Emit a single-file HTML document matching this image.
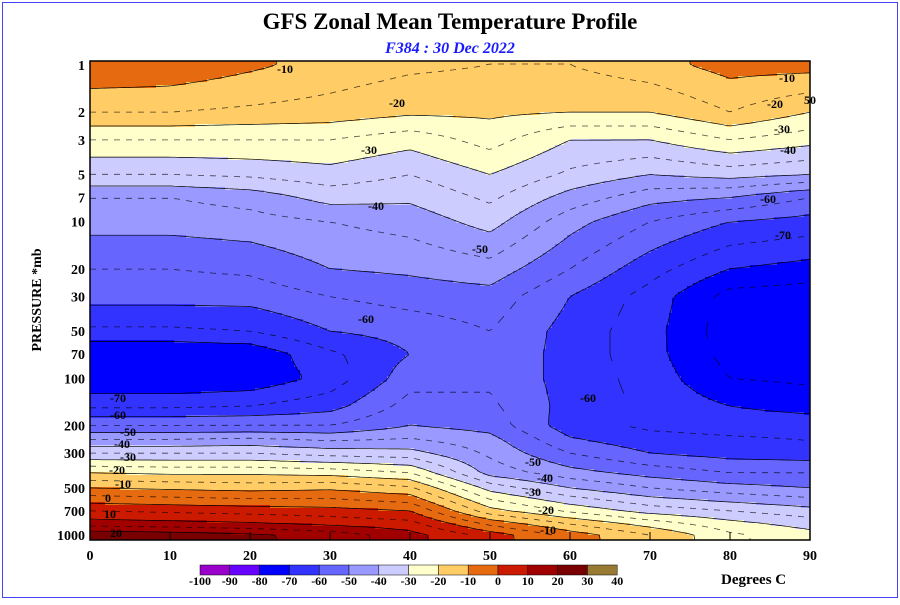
<!DOCTYPE html>
<html><head><meta charset="utf-8"><style>
body{margin:0;background:#fff;}
svg text{font-family:"Liberation Serif",serif;font-weight:bold;}
</style></head><body>
<svg id="chart" width="900" height="600" xmlns="http://www.w3.org/2000/svg">
<rect x="2.5" y="2.5" width="895" height="595" fill="#fff" stroke="#4444ff" stroke-width="1"/>
<text x="450" y="29" text-anchor="middle" font-size="23">GFS Zonal Mean Temperature Profile</text>
<text x="450" y="53" text-anchor="middle" font-size="16" font-style="italic" fill="#1a1aff">F384 : 30 Dec 2022</text>
<g id="field"></g>
<g id="contours"></g>
<g id="clabels"></g>
<rect x="90" y="61" width="720" height="479" fill="none" stroke="#000" stroke-width="1.5"/>
<g id="axes"></g>
<text transform="translate(41,300) rotate(-90)" text-anchor="middle" font-size="14">PRESSURE *mb</text>
<g id="cbar"></g>
<text x="721" y="584" font-size="15">Degrees C</text>
</svg>
<script>
const lats=[0,10,20,30,40,50,60,70,80,90];
const levels=[1,2,3,5,7,10,20,30,50,70,100,150,200,250,300,400,500,700,850,1000];
// temperature rows per latitude (values at each pressure level)
const t0 =[-5,-15,-25,-35,-45,-48,-55,-58,-66,-75,-75,-66,-55,-44,-35,-20,-10,5,13,24];
const t10=[-6,-15,-25,-35,-45,-48,-55,-58,-66,-75,-75,-66,-55,-44,-35,-21,-11,4,12,23];
const t20=[-9,-16,-25,-34,-43,-47,-54,-58,-65,-74,-74,-65,-55,-43,-35,-21,-12,3,11,21];
const t30=[-12,-17,-25,-32,-38,-45,-50,-55,-60,-66,-68,-62,-55,-45,-37,-22,-11,2,9,18];
const t40=[-14,-19,-28,-35,-39,-43,-49,-53,-58,-60,-57,-53,-50,-44,-38,-25,-14,0,7,12];
const t50=[-15,-19,-23,-30,-34,-38,-47,-52,-55,-56,-56,-54,-52,-48,-46,-42,-32,-18,-6,3];
const t60=[-15,-20,-30,-36,-42,-48,-55,-60,-62,-62,-62,-62,-63,-59,-55,-48,-40,-26,-15,-7];
const t70=[-12,-20,-30,-40,-48,-55,-63,-67,-68,-68,-67,-66,-66,-63,-60,-52,-45,-32,-22,-15];
const t80=[-8,-15,-25,-38,-50,-60,-70,-77,-78,-77,-75,-70,-67,-64,-62,-55,-48,-35,-28,-24];
const t90=[-8,-20,-28,-40,-55,-62,-72,-78,-78,-77,-76,-72,-67,-65,-63,-55,-50,-38,-32,-28];
const temps=[t0,t10,t20,t30,t40,t50,t60,t70,t80,t90];
const bandEdges=[-100,-90,-80,-70,-60,-50,-40,-30,-20,-10,0,10,20,30,40];
const bandColors=["#9900cc","#6600ff","#0000ff","#3333ff","#6666ff","#9999ff","#ccccff","#ffffcc","#ffcc66","#e66a10","#cc1a00","#a00000","#780000","#997a33"];
const yTicks=[1,2,3,5,7,10,20,30,50,70,100,200,300,500,700,1000];
const xTicks=[0,10,20,30,40,50,60,70,80,90];
const cLabels=[["-10",285,73],["-10",787,82],["-20",397,107],["-20",775,108],["-30",369,154],["-30",782,133],["-40",376,210],["-40",788,154],["-50",480,253],["-60",768,203],["-70",783,239],["-60",366,323],["-70",118,402],["-60",118,419],["-50",128,436],["-40",122,448],["-30",128,461],["-20",117,474],["-10",123,488],["0",108,502],["10",110,518],["20",116,537],["-50",533,466],["-40",545,482],["-30",533,496],["-20",546,514],["-10",548,534],["50",810,104],["-60",588,402]];
const NS="http://www.w3.org/2000/svg";
const X0=90,X1=810,Y0=61,Y1=540;
const xs=lat=>X0+(lat-0)/(90-0)*(X1-X0);
const ys=p=>65+156.7*Math.log10(p);
function val(lat,lp){
  let i=Math.min(8,Math.max(0,Math.floor(lat/10)));let fx=(lat-lats[i])/10;fx=Math.max(0,Math.min(1,fx));
  const lls=levels.map(Math.log10);
  let j=0;while(j<levels.length-2&&lp>lls[j+1])j++;
  let fy=(lp-lls[j])/(lls[j+1]-lls[j]);fy=Math.max(0,Math.min(1,fy));
  const a=temps[i][j],b=temps[i+1][j],c=temps[i][j+1],d=temps[i+1][j+1];
  return (a*(1-fx)+b*fx)*(1-fy)+(c*(1-fx)+d*fx)*fy;
}
const latOf=x=>(x-X0)/(X1-X0)*90;
const lpOf=y=>(y-65)/156.7;
function bandIdx(v){for(let k=0;k<bandColors.length;k++){if(v<bandEdges[k+1])return k;}return bandColors.length-1;}
const field=document.getElementById('field');
const S=3;
const nx=Math.ceil((X1-X0)/S),ny=Math.ceil((Y1-Y0)/S);
const G=[];
for(let r=0;r<=ny;r++){G.push([]);for(let c=0;c<=nx;c++){G[r].push(val(latOf(Math.min(X1,X0+c*S)),lpOf(Math.min(Y1,Y0+r*S))));}}
for(let r=0;r<ny;r++){
  let start=0;
  const cc=[];for(let c=0;c<nx;c++){cc.push(bandIdx((G[r][c]+G[r][c+1]+G[r+1][c]+G[r+1][c+1])/4));}
  for(let c=1;c<=nx;c++){
    if(c===nx||cc[c]!==cc[start]){
      const el=document.createElementNS(NS,'rect');
      el.setAttribute('x',X0+start*S);el.setAttribute('y',Y0+r*S);
      el.setAttribute('width',Math.min(X1,X0+c*S)-(X0+start*S)+0.5);el.setAttribute('height',Math.min(S,Y1-(Y0+r*S))+0.5);
      el.setAttribute('fill',bandColors[cc[start]]);
      
      
      field.appendChild(el);start=c;
    }
  }
}
const cont=document.getElementById('contours');
for(let L=-95;L<=35;L+=5){
  const dashed=(L%10!==0);
  let d="";
  for(let r=0;r<ny;r++)for(let c=0;c<nx;c++){
    if(dashed && (c%4)>=2) continue;
    const v=[G[r][c],G[r][c+1],G[r+1][c+1],G[r+1][c]];
    const P=[[X0+c*S,Y0+r*S],[X0+c*S+S,Y0+r*S],[X0+c*S+S,Y0+r*S+S],[X0+c*S,Y0+r*S+S]];
    const pts=[];
    for(let e=0;e<4;e++){const a=v[e],b=v[(e+1)%4];if((a<L)!==(b<L)){const t=(L-a)/(b-a);const p1=P[e],p2=P[(e+1)%4];pts.push([p1[0]+t*(p2[0]-p1[0]),Math.min(Y1,p1[1]+t*(p2[1]-p1[1]))]);}}
    if(pts.length>=2){d+=`M${pts[0][0].toFixed(1)} ${pts[0][1].toFixed(1)}L${pts[1][0].toFixed(1)} ${pts[1][1].toFixed(1)}`;}
    if(pts.length===4){d+=`M${pts[2][0].toFixed(1)} ${pts[2][1].toFixed(1)}L${pts[3][0].toFixed(1)} ${pts[3][1].toFixed(1)}`;}
  }
  if(!d)continue;
  const el=document.createElementNS(NS,'path');
  el.setAttribute('d',d);el.setAttribute('fill','none');el.setAttribute('stroke','#000');
  el.setAttribute('stroke-width',dashed?'0.8':'0.7');
  if(dashed){el.setAttribute('stroke-opacity','0.7');}
  
  
  cont.appendChild(el);
}
const cl=document.getElementById('clabels');
cLabels.forEach(([s,x,y])=>{const t=document.createElementNS(NS,'text');t.setAttribute('x',x);t.setAttribute('y',y);t.setAttribute('font-size','12');t.setAttribute('text-anchor','middle');t.textContent=s;


cl.appendChild(t);});
const ax=document.getElementById('axes');
yTicks.forEach(p=>{const y=ys(p);const t=document.createElementNS(NS,'text');t.setAttribute('x',85);t.setAttribute('y',y+5);t.setAttribute('text-anchor','end');t.setAttribute('font-size','14');t.textContent=p;


ax.appendChild(t);});
xTicks.forEach(l=>{const x=xs(l);const t=document.createElementNS(NS,'text');t.setAttribute('x',x);t.setAttribute('y',560);t.setAttribute('text-anchor','middle');t.setAttribute('font-size','14');t.textContent=l;


ax.appendChild(t);
const k=document.createElementNS(NS,'line');k.setAttribute('x1',x);k.setAttribute('x2',x);k.setAttribute('y1',540);k.setAttribute('y2',532);k.setAttribute('stroke','#000');


ax.appendChild(k);});
const cb=document.getElementById('cbar');
const cw=29.8,cx0=200;
bandColors.forEach((col,i)=>{const r=document.createElementNS(NS,'rect');r.setAttribute('x',cx0+i*cw);r.setAttribute('y',565);r.setAttribute('width',cw);r.setAttribute('height',10);r.setAttribute('fill',col);r.setAttribute('stroke','#000');r.setAttribute('stroke-width','0.5');


cb.appendChild(r);});
bandEdges.forEach((e,i)=>{const t=document.createElementNS(NS,'text');t.setAttribute('x',cx0+i*cw);t.setAttribute('y',585);t.setAttribute('text-anchor','middle');t.setAttribute('font-size','12');t.textContent=e;


cb.appendChild(t);});
</script>
</body></html>
